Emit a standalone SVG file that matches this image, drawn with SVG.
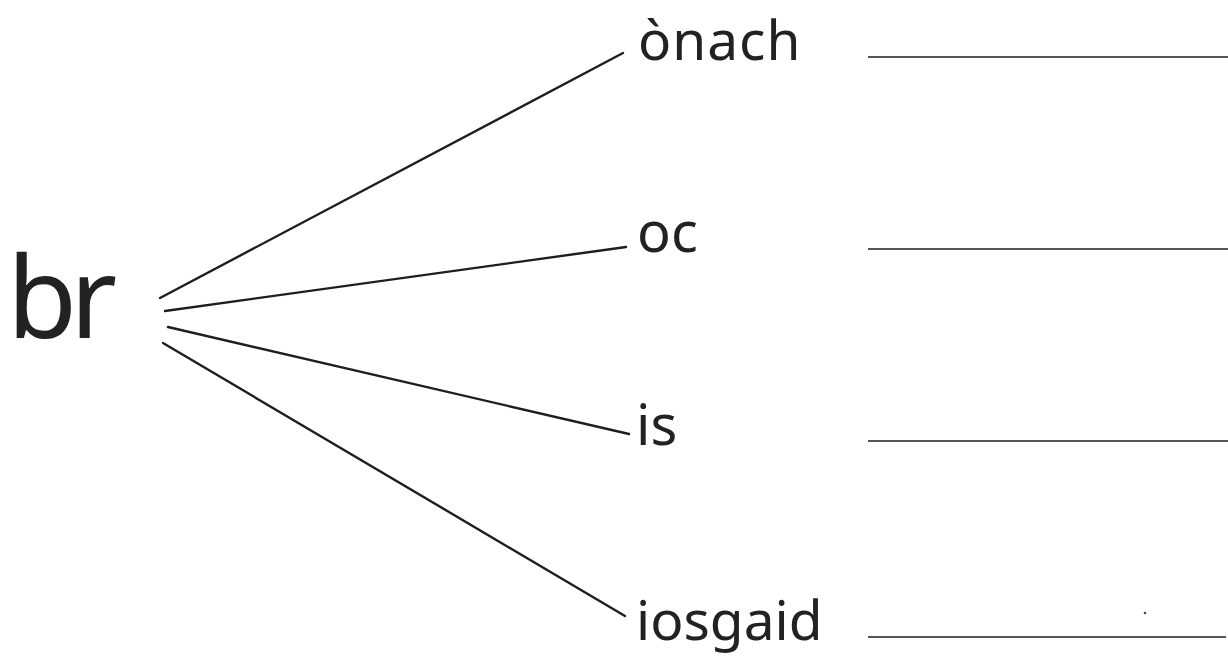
<svg xmlns="http://www.w3.org/2000/svg" width="1228" height="656" viewBox="0 0 1228 656">
<style>
.t{font-family:"Noto Sans","Open Sans",sans-serif;fill:#222;}
.c{stroke:#1e1e1e;stroke-width:2.4;stroke-linecap:round;fill:none;}
.a{stroke:#555;stroke-width:2;fill:none;}
</style>
<rect width="1228" height="656" fill="#fff"/>
<g id="root"><text class="t" x="7" y="338" font-size="114" letter-spacing="-7" fill="#2a2a2a">br</text></g>
<g id="connectors">
<line class="c" x1="160" y1="298" x2="623" y2="53"/>
<line class="c" x1="165" y1="311" x2="626" y2="247"/>
<line class="c" x1="168" y1="327" x2="629" y2="434"/>
<line class="c" x1="163" y1="343" x2="625" y2="616"/>
</g>
<g id="n1"><text class="t" x="638" y="60" font-size="55" letter-spacing="1">ònach</text><line class="a" x1="868" y1="57" x2="1228" y2="57"/></g>
<g id="n2"><text class="t" x="637" y="252" font-size="56">oc</text><line class="a" x1="868" y1="249" x2="1228" y2="249"/></g>
<g id="n3"><text class="t" x="636" y="445" font-size="56">is</text><line class="a" x1="868" y1="441" x2="1228" y2="441"/></g>
<g id="n4"><text class="t" x="636" y="640" font-size="55">iosgaid</text><line class="a" x1="868" y1="637" x2="1226" y2="637"/></g>
<circle cx="1145" cy="613" r="1.3" fill="#444"/>
</svg>
